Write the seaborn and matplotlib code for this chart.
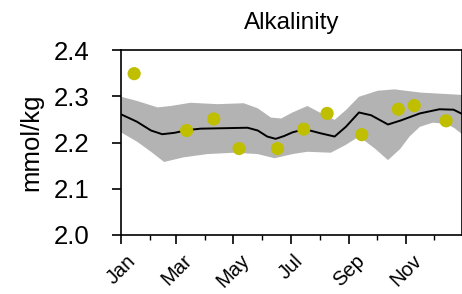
import matplotlib
matplotlib.use('Agg')
import matplotlib.pyplot as plt
import numpy as np
import pandas as pd
import seaborn as sns

# observations (day of year, mmol/kg)
obs_day = [15, 71, 100, 127, 168, 196, 221, 258, 297, 314, 348]
obs_val = [2.349, 2.226, 2.251, 2.187, 2.187, 2.229, 2.263, 2.217, 2.272, 2.280, 2.247]

# climatological mean
mean_day = [1, 18, 33, 45, 58, 72, 86, 111, 136, 147, 157, 166, 175, 184, 197,
            214, 229, 241, 255, 268, 286, 300, 320, 341, 356, 365]
mean_val = [2.261, 2.245, 2.226, 2.218, 2.221, 2.227, 2.230, 2.231, 2.232, 2.226,
            2.213, 2.208, 2.214, 2.222, 2.229, 2.220, 2.213, 2.234, 2.265, 2.259,
            2.239, 2.248, 2.263, 2.272, 2.271, 2.262]

# upper / lower edge of the grey spread
hi_day = [1, 18, 40, 54, 75, 104, 132, 147, 161, 172, 184, 200, 214, 229, 241,
          255, 275, 293, 321, 365]
hi_val = [2.299, 2.290, 2.276, 2.279, 2.286, 2.283, 2.285, 2.274, 2.254, 2.252,
          2.265, 2.279, 2.264, 2.249, 2.270, 2.299, 2.312, 2.315, 2.308, 2.303]
lo_day = [1, 18, 33, 47, 68, 93, 122, 147, 165, 184, 200, 225, 241, 255, 272,
          286, 299, 309, 320, 334, 349, 357, 365]
lo_val = [2.222, 2.202, 2.180, 2.158, 2.168, 2.175, 2.178, 2.175, 2.166, 2.175,
          2.180, 2.178, 2.195, 2.213, 2.187, 2.162, 2.186, 2.213, 2.234, 2.243,
          2.240, 2.231, 2.218]

month_start = [1, 32, 60, 91, 121, 152, 182, 213, 244, 274, 305, 335]
month_lab = ['Jan', 'Mar', 'May', 'Jul', 'Sep', 'Nov']

sns.set_style('ticks')
plt.rcParams['font.family'] = ['Liberation Sans', 'DejaVu Sans']
plt.rcParams['text.color'] = 'black'
plt.rcParams['axes.labelcolor'] = 'black'
plt.rcParams['xtick.color'] = 'black'
plt.rcParams['ytick.color'] = 'black'

fig = plt.figure(figsize=(4.62, 2.94), dpi=100)
ax = fig.add_axes([0.262, 0.2007, 0.738, 0.629])

clim = pd.DataFrame({'day': mean_day, 'mean': mean_val})
obs = pd.DataFrame({'day': obs_day, 'val': obs_val})

# spread polygon: upper edge forward, lower edge back
ax.fill(np.r_[hi_day, lo_day[::-1]], np.r_[hi_val, lo_val[::-1]],
        color='#b3b3b3', lw=0)
sns.lineplot(data=clim, x='day', y='mean', ax=ax, color='black', lw=1.4)
sns.scatterplot(data=obs, x='day', y='val', ax=ax, color='#bfbf00', s=90,
                edgecolor='none', zorder=3)

ax.set_xlim(1, 365)
ax.set_ylim(2.0, 2.4)
ax.set_yticks([2.0, 2.1, 2.2, 2.3, 2.4])
ax.set_yticklabels(['2.0', '2.1', '2.2', '2.3', '2.4'], fontsize=18.5)
ax.set_xticks(month_start[::2])
ax.set_xticklabels(month_lab, rotation=45, fontsize=14.5, ha='center')
ax.set_xticks(month_start, minor=True)
ax.tick_params(axis='both', which='major', length=6.5, width=1.2, direction='out')
ax.tick_params(axis='x', which='minor', length=3.6, width=1.0)
ax.tick_params(axis='y', pad=16)
ax.tick_params(axis='x', pad=5)

for s in ax.spines.values():
    s.set_color('black')
    s.set_linewidth(1.2)

ax.set_xlabel('')
ax.set_ylabel('mmol/kg', fontsize=18.5, labelpad=8)
ax.set_title('Alkalinity', fontsize=17.5, pad=15)

fig.savefig('out.png', dpi=100)
